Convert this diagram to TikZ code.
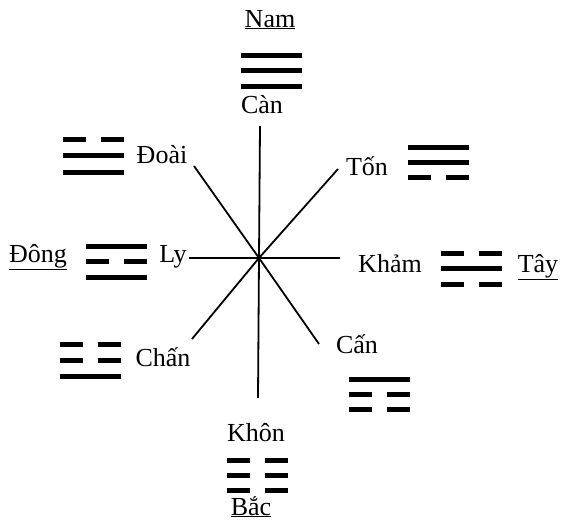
\documentclass[tikz,border=0pt]{standalone}
\usepackage{fontspec}
\setmainfont{Liberation Serif}
\newcommand{\duong}[2]{\draw[hao] (#1,#2) -- ++(61,0);}
\newcommand{\am}[2]{\draw[hao] (#1,#2) -- ++(23,0) ++(15,0) -- ++(23,0);}

\begin{document}
\begin{tikzpicture}[
  x=1pt, y=-1pt,
  hao/.style={line width=5pt},
  spoke/.style={line width=1.8pt},
  lbl/.style={font=\fontsize{26}{30}\selectfont, anchor=base, inner sep=0pt}
]
\useasboundingbox (0,0) rectangle (563,525);

% directions
\node[lbl] (nam) at (270,27) {\underline{Nam}};
\node[lbl] (bac) at (251,515) {\underline{Bắc}};
\node[lbl] (dong) at (38,262) {\underline{Đông}};
\node[lbl] (tay) at (538,272) {\underline{Tây}};

% names
\node[lbl] (can) at (262,113) {Càn};
\node[lbl] (doai) at (162,163) {Đoài};
\node[lbl] (ton) at (367,175) {Tốn};
\node[lbl] (ly) at (173,262) {Ly};
\node[lbl] (kham) at (390,272) {Khảm};
\node[lbl] (chan) at (163,366) {Chấn};
\node[lbl] (can2) at (357,353) {Cấn};
\node[lbl] (khon) at (256,441) {Khôn};

% spokes
\coordinate (o) at (259,258);
\coordinate (n) at (260,126);
\coordinate (s) at (258,398);
\coordinate (w) at (189,258);
\coordinate (e) at (340,258);
\coordinate (nw) at (194,166);
\coordinate (se) at (319,344);
\coordinate (ne) at (338,169);
\coordinate (sw) at (192,339);
\draw[spoke] (n) -- (o) -- (s);
\draw[spoke] (w) -- (o) -- (e);
\draw[spoke] (nw) -- (o) -- (se);
\draw[spoke] (ne) -- (o) -- (sw);

% trigrams
\duong{241}{55} \duong{241}{70} \duong{241}{86}
\am{63}{139} \duong{63}{155} \duong{63}{172}
\duong{408}{147} \duong{408}{162} \am{408}{177}
\duong{86}{246} \am{86}{261} \duong{86}{277}
\am{441}{253} \duong{441}{268} \am{441}{284}
\am{60}{344} \am{60}{360} \duong{60}{376}
\duong{349}{379} \am{349}{394} \am{349}{409}
\am{227}{460} \am{227}{475} \am{227}{490}
\end{tikzpicture}
\end{document}
